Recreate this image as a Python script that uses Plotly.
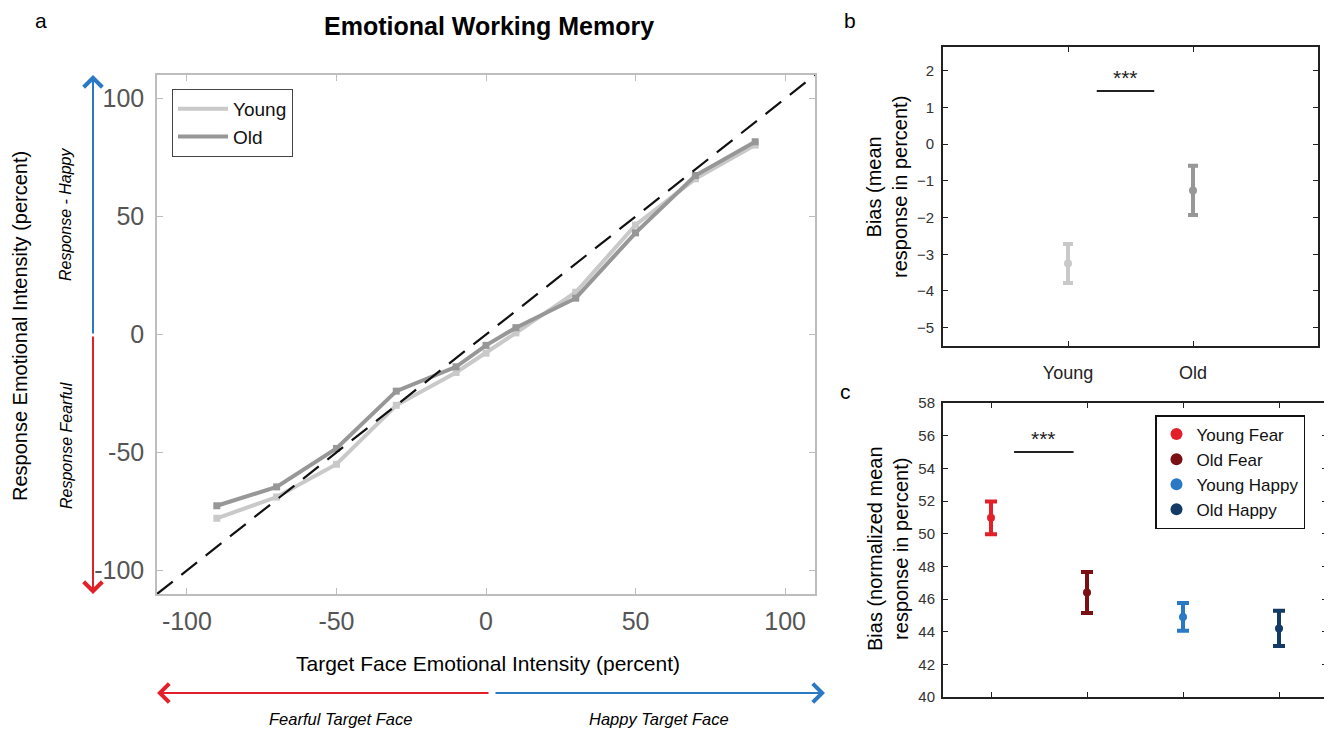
import plotly.graph_objects as go

# ---- data ----
target_intensity = [-90, -70, -50, -30, -10, 0, 10, 30, 50, 70, 90]
young_response = [-77.9, -68.9, -55.0, -30.0, -16.1, -7.9, 0.7, 17.9, 46.4, 66.0, 80.3]
old_response = [-72.6, -64.6, -48.3, -24.0, -13.7, -4.6, 2.9, 15.4, 43.1, 67.4, 81.7]

bias_groups = ["Young", "Old"]
bias_mean = [-3.25, -1.26]
bias_err = [0.53, 0.67]

cond_names = ["Young Fear", "Old Fear", "Young Happy", "Old Happy"]
cond_mean = [50.97, 46.4, 44.9, 44.2]
cond_err = [1.0, 1.25, 0.85, 1.08]

a_ticks = [-100, -50, 0, 50, 100]
a_range = [-110, 110]

W, H = 1332, 732
PAGE_OFFSET = 8  # default body margin of the html page
NARROW = "Liberation Sans Narrow, Arial Narrow, Liberation Sans, Arial, sans-serif"
SANS = "Liberation Sans, Arial, sans-serif"

C_YOUNG = "#c9c9c9"
C_OLD = "#979797"
cond_colors = ["#e3202a", "#7a1014", "#2a79c5", "#143a66"]


def px_x(p):
    return (p - PAGE_OFFSET) / W


def px_y(p):
    return 1 - (p - PAGE_OFFSET) / H


fig = go.Figure()

# ---- panel a ----
for name, vals, col in [("Young", young_response, C_YOUNG), ("Old", old_response, C_OLD)]:
    fig.add_trace(go.Scatter(
        x=target_intensity, y=vals, mode="lines+markers", name=name,
        line=dict(color=col, width=4), marker=dict(symbol="square", size=7, color=col),
        xaxis="x", yaxis="y", showlegend=False))
    fig.add_trace(go.Scatter(
        x=[None], y=[None], mode="lines", name=name, line=dict(color=col, width=4),
        xaxis="x", yaxis="y", legend="legend"))

fig.add_shape(type="line", xref="x", yref="y", x0=a_range[0], y0=a_range[0],
              x1=a_range[1], y1=a_range[1],
              line=dict(color="#111", width=2.2, dash="20px,11px"))

# ---- panel b ----
for g, m, e, col in zip(bias_groups, bias_mean, bias_err, [C_YOUNG, C_OLD]):
    fig.add_trace(go.Scatter(
        x=[g], y=[m], mode="markers", marker=dict(size=8, color=col),
        error_y=dict(type="data", array=[e], color=col, thickness=4, width=5),
        xaxis="x2", yaxis="y2", showlegend=False))

fig.add_shape(type="line", xref="x2", yref="y2", x0=0.23, x1=0.69, y0=1.45, y1=1.45,
              line=dict(color="#222", width=2))
fig.add_annotation(x=0.46, y=1.45, xref="x2", yref="y2", text="***", showarrow=False,
                   yanchor="bottom", yshift=0, font=dict(size=21, color="#222"))

# ---- panel c ----
for i, (n, m, e, col) in enumerate(zip(cond_names, cond_mean, cond_err, cond_colors)):
    fig.add_trace(go.Scatter(
        x=[i + 1], y=[m], mode="markers", name=n, marker=dict(size=8, color=col),
        error_y=dict(type="data", array=[e], color=col, thickness=4, width=6),
        xaxis="x3", yaxis="y3", legend="legend2"))

fig.add_shape(type="line", xref="x3", yref="y3", x0=1.24, x1=1.86, y0=55, y1=55,
              line=dict(color="#222", width=2))
fig.add_annotation(x=1.55, y=55, xref="x3", yref="y3", text="***", showarrow=False,
                   yanchor="bottom", yshift=0, font=dict(size=21, color="#222"))

# ---- axes ----
a_axis = dict(range=a_range, tickvals=a_ticks, ticktext=[str(t) for t in a_ticks],
              ticks="inside", ticklen=6, tickcolor="#bdbdbd", showline=True,
              linecolor="#bdbdbd", linewidth=1.5, mirror="ticks", showgrid=False,
              zeroline=False, automargin=False,
              tickfont=dict(family=NARROW, size=25, color="#555"))
box_axis = dict(ticks="inside", ticklen=5, tickcolor="#222", showline=True,
                linecolor="#222", linewidth=2, mirror="ticks", showgrid=False,
                zeroline=False, automargin=False,
                tickfont=dict(family=SANS, size=15, color="#333"))

fig.update_layout(
    width=W, height=H, margin=dict(l=0, r=0, t=0, b=0, autoexpand=False),
    paper_bgcolor="white", plot_bgcolor="white",
    font=dict(family=SANS, color="black"),
    xaxis=dict(a_axis, domain=[px_x(157), px_x(815)], anchor="y", ticklabelstandoff=4),
    yaxis=dict(a_axis, domain=[px_y(594), px_y(75)], anchor="x", ticklabelstandoff=6),
    xaxis2=dict(box_axis, domain=[px_x(943), px_x(1318)], anchor="y2", range=[-1, 2],
                tickfont=dict(family=SANS, size=18, color="#222"), ticklabelstandoff=9),
    yaxis2=dict(box_axis, domain=[px_y(346), px_y(47)], anchor="x2", range=[-5.5, 2.65],
                tickvals=[-5, -4, -3, -2, -1, 0, 1, 2], ticklabelstandoff=4),
    xaxis3=dict(box_axis, domain=[px_x(943), px_x(1327)], anchor="y3", range=[0.5, 4.5],
                tickvals=[1, 2, 3, 4], showticklabels=False),
    yaxis3=dict(box_axis, domain=[px_y(697), px_y(403)], anchor="x3", range=[40, 58],
                dtick=2, ticklabelstandoff=3),
    legend=dict(x=px_x(172), y=px_y(89), xanchor="left", yanchor="top",
                bgcolor="white", bordercolor="#444", borderwidth=1, itemwidth=50,
                font=dict(family=SANS, size=19, color="#111"), tracegroupgap=0),
    legend2=dict(x=px_x(1155), y=px_y(415), xanchor="left", yanchor="top",
                 bgcolor="white", bordercolor="#111", borderwidth=1.5, itemsizing="constant",
                 font=dict(family=SANS, size=17, color="#111"), tracegroupgap=0),
)


# ---- text ----
def label(x, y, text, size, family=SANS, color="black", angle=0):
    fig.add_annotation(x=px_x(x), y=px_y(y), xref="paper", yref="paper", text=text,
                       showarrow=False, xanchor="center", yanchor="middle", textangle=angle,
                       font=dict(size=size, family=family, color=color))


label(41, 20, "a", 21)
label(850, 20, "b", 21)
label(845, 391, "c", 21)
label(489, 26, "<b>Emotional Working Memory</b>", 25, family=NARROW)
label(488, 663, "Target Face Emotional Intensity (percent)", 21, family=NARROW)
label(20, 326, "Response Emotional Intensity (percent)", 20, family=NARROW, angle=-90)
label(66, 214, "<i>Response - Happy</i>", 16, family=NARROW, angle=-90)
label(66, 445, "<i>Response Fearful</i>", 16, family=NARROW, angle=-90)
label(340, 719, "<i>Fearful Target Face</i>", 16.5, family=NARROW)
label(659, 719, "<i>Happy Target Face</i>", 16.5, family=NARROW)
label(887, 187, "Bias (mean<br>response in percent)", 20, angle=-90)
label(888, 549, "Bias (normalized mean<br>response in percent)", 20, angle=-90)


# ---- direction arrows ----
def arrow(tip_x, tip_y, ax, ay, col):
    fig.add_annotation(x=px_x(tip_x), y=px_y(tip_y), xref="paper", yref="paper",
                       ax=ax, ay=ay, text="", showarrow=True, arrowhead=4, arrowsize=1.8,
                       arrowwidth=2, arrowcolor=col)


arrow(93, 75, 0, 260, "#2a79c5")
arrow(93, 594, 0, -259, "#e3202a")
arrow(157, 693, 333, 0, "#e3202a")
arrow(825, 693, -331, 0, "#2a79c5")

fig.write_html("out.html")
